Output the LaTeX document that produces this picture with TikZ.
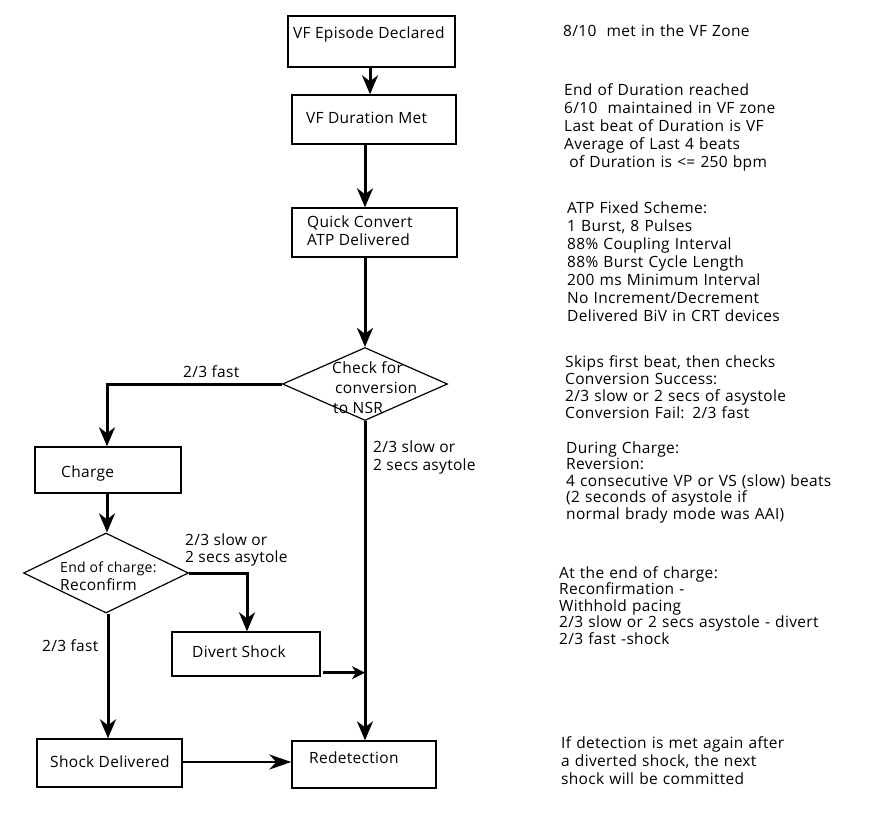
\documentclass[tikz,border=0pt]{standalone}
\usepackage{fontspec}
\setmainfont[LetterSpace=2]{Open Sans}
\usetikzlibrary{arrows.meta,shapes.geometric}
\begin{document}
\begin{tikzpicture}[x=1pt,y=-1pt,
  box/.style={draw,line width=1.4pt,inner sep=0pt},
  dia/.style={draw,diamond,line width=1.2pt,inner sep=0pt},
  lbl/.style={anchor=base west,inner sep=0pt,font=\fontsize{15.5}{18}\selectfont},
  note/.style={anchor=base west,inner sep=0pt,align=left,text width=310pt,font=\fontsize{15.5}{18}\selectfont},
  arr/.style={line width=3pt,-{Stealth[length=19pt,width=16pt,inset=6pt]}},
  sarr/.style={line width=2.6pt,-{Stealth[length=13pt,width=13pt,inset=4pt]}},
  larr/.style={line width=2.6pt,-{Stealth[length=22pt,width=15pt,inset=7pt]}}]
\useasboundingbox (0,0) rectangle (871,825);
% boxes
\node[box,minimum width=167pt,minimum height=51pt] (b1) at (371.5,41.5) {};
\node[box,minimum width=164pt,minimum height=49pt] (b2) at (374,119.5) {};
\node[box,minimum width=165pt,minimum height=49pt] (b3) at (374.5,232.5) {};
\node[dia,minimum width=165pt,minimum height=73pt] (d1) at (365,384) {};
\node[box,minimum width=146pt,minimum height=46pt] (ch) at (108,470) {};
\node[dia,minimum width=165pt,minimum height=80pt] (d2) at (106,573) {};
\node[box,minimum width=148pt,minimum height=44pt] (ds) at (246,654) {};
\node[box,minimum width=145pt,minimum height=48pt] (sd) at (109.5,763) {};
\node[box,minimum width=144pt,minimum height=47pt] (rd) at (364,764.5) {};
% box texts
\node[lbl] (t1) at (293,38) {VF Episode Declared};
\node[lbl] (t2) at (306,123) {VF Duration Met};
\node[lbl] (t3a) at (307,227) {Quick Convert};
\node[lbl] (t3b) at (307,245) {ATP Delivered};
\node[lbl] (t4a) at (332,373) {Check for};
\node[lbl] (t4b) at (335,393) {conversion};
\node[lbl] (t4c) at (333,413) {to NSR};
\node[lbl] (t5) at (61,477) {Charge};
\node[lbl,font=\fontsize{14}{18}\selectfont] (t6a) at (60,572) {End of charge:};
\node[lbl] (t6b) at (60,590) {Reconfirm};
\node[lbl] (t7) at (192,657) {Divert Shock};
\node[lbl] (t8) at (50,767) {Shock Delivered};
\node[lbl] (t9) at (309,763) {Redetection};
% edge labels
\node[lbl] (l1) at (183,377) {2/3 fast};
\node[lbl] (l2a) at (185,545) {2/3 slow or};
\node[lbl] (l2b) at (185,562) {2 secs asytole};
\node[lbl] (l3a) at (373,452) {2/3 slow or};
\node[lbl] (l3b) at (373,470) {2 secs asytole};
\node[lbl] (l4) at (42,651) {2/3 fast};
% connectors
\draw[arr] (b1.south -| 370,0) -- (b2.north -| 370,0);
\draw[arr] (b2.south -| d1.north) -- (b3.north -| d1.north);
\draw[arr] (b3.south -| d1.north) -- (d1.north);
\draw[arr] (d1.west) -| (ch.north -| 107,0);
\draw[arr] (ch.south -| 107,0) -- (d2.north -| 107,0);
\draw[arr] (d2.east) -| (ds.north -| 247,0);
\draw[arr] (d2.south -| 108,0) -- (sd.north -| 108,0);
\draw[arr] (d1.south) -- (rd.north -| d1.south);
\coordinate (dsout) at ([xshift=2pt,yshift=4pt]ds.south east);
\draw[sarr] (dsout) -- (dsout -| d1.south);
\draw[larr] (sd.east |- 0,762) -- (rd.west |- 0,762);
% notes
\node[note] (n1) at (563,36) {8/10\ \ met in the VF Zone};
\node[note] (n2) at (564,95) {End of Duration reached\\6/10\ \ maintained in VF zone\\Last beat of Duration is VF\\Average of Last 4 beats\\\ of Duration is <= 250 bpm};
\node[note] (n3) at (567,213) {ATP Fixed Scheme:\\1 Burst, 8 Pulses\\88\% Coupling Interval\\88\% Burst Cycle Length\\200 ms Minimum Interval\\No Increment/Decrement\\Delivered BiV in CRT devices};
\node[note,font=\fontsize{15.5}{17}\selectfont] (n4) at (565,367) {Skips first beat, then checks\\Conversion Success:\\2/3 slow or 2 secs of asystole\\Conversion Fail: 2/3 fast};
\node[note,font=\fontsize{15.5}{16.6}\selectfont] (n5) at (566,453) {During Charge:\\Reversion:\\4 consecutive VP or VS (slow) beats\\(2 seconds of asystole if\\normal brady mode was AAI)};
\node[note,font=\fontsize{15.5}{16.5}\selectfont] (n6) at (559,578) {At the end of charge:\\Reconfirmation -\\Withhold pacing\\2/3 slow or 2 secs asystole - divert\\2/3 fast -shock};
\node[note] (n7) at (561,748) {If detection is met again after\\a diverted shock, the next\\shock will be committed};
\end{tikzpicture}
\end{document}
